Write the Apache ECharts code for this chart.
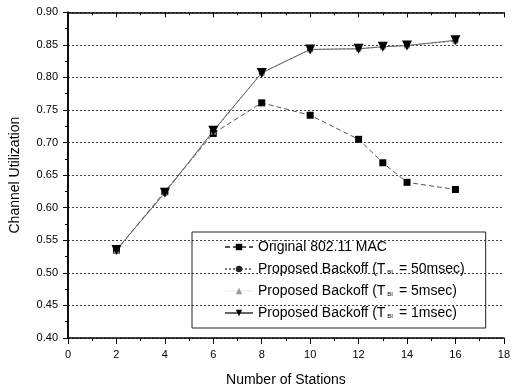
<!DOCTYPE html>
<html><head><meta charset="utf-8">
<script src="https://cdn.jsdelivr.net/npm/echarts@6/dist/echarts.min.js"></script>
<style>html,body{margin:0;padding:0;background:#fff}#c{width:513px;height:392px}</style>
</head><body><div id="c"></div>
<script>
var stations = [2, 4, 6, 8, 10, 12, 13, 14, 16];
var original = [0.535, 0.625, 0.714, 0.761, 0.742, 0.705, 0.669, 0.639, 0.628];
var backoff50 = [0.535, 0.623, 0.717, 0.807, 0.843, 0.844, 0.847, 0.849, 0.856];
var backoff5 = [0.535, 0.623, 0.717, 0.807, 0.843, 0.844, 0.847, 0.849, 0.856];
var backoff1 = [0.535, 0.623, 0.718, 0.807, 0.843, 0.844, 0.847, 0.849, 0.857];
var seriesNames = ['Original 802.11 MAC', 'Proposed Backoff (T_BI = 50msec)', 'Proposed Backoff (T_BI = 5msec)', 'Proposed Backoff (T_BI = 1msec)'];
var xTicks = {min: 0, max: 18, step: 2};
var yTicks = {min: 0.40, max: 0.90, step: 0.05};

function pairs(xs, ys) { return xs.map(function (x, i) { return [x, ys[i]]; }); }
var FONT = 'Liberation Sans, Arial, sans-serif';
var chart = echarts.init(document.getElementById('c'));
chart.setOption({
  animation: false,
  textStyle: {fontFamily: FONT},
  grid: {left: 66.7, right: 8, top: 12.3, bottom: 53.7},
  legend: {
    orient: 'vertical', left: 192, top: 232,
    padding: [8, 21, 8, 32],
    borderColor: '#222', borderWidth: 1,
    itemWidth: 28, itemHeight: 8, itemGap: 8,
    data: seriesNames,
    formatter: function (n) { return n.replace('T_BI', 'T{sub|BI}'); },
    textStyle: {fontSize: 14, lineHeight: 14, color: '#000', fontFamily: FONT,
      rich: {sub: {fontSize: 6, lineHeight: 14, padding: [6, 2, 0, 2], color: '#000'}}}
  },
  xAxis: [{
    type: 'value', min: xTicks.min, max: xTicks.max, interval: xTicks.step,
    name: 'Number of Stations', nameLocation: 'middle', nameGap: 35,
    nameTextStyle: {fontSize: 14, color: '#000'},
    axisLine: {lineStyle: {color: '#000', width: 1.5}},
    axisTick: {length: 6, lineStyle: {color: '#000'}},
    minorTick: {show: true, splitNumber: 2, length: 3, lineStyle: {color: '#000'}},
    axisLabel: {fontSize: 11, color: '#000', margin: 11},
    splitLine: {show: false}
  }, {
    type: 'value', position: 'top', min: xTicks.min, max: xTicks.max, interval: xTicks.step,
    axisLine: {show: true, lineStyle: {color: '#000', width: 1.5}},
    axisTick: {show: true, inside: true, length: 5, lineStyle: {color: '#000'}},
    minorTick: {show: true, splitNumber: 2, length: 3, lineStyle: {color: '#000'}},
    axisLabel: {show: false}, splitLine: {show: false}
  }],
  yAxis: [{
    type: 'value', min: yTicks.min, max: yTicks.max, interval: yTicks.step,
    name: 'Channel Utilization', nameLocation: 'middle', nameGap: 46,
    nameTextStyle: {fontSize: 14, color: '#000'},
    axisLine: {lineStyle: {color: '#000', width: 1.5}},
    axisTick: {length: 5, lineStyle: {color: '#000'}},
    minorTick: {show: true, splitNumber: 2, length: 3, lineStyle: {color: '#000'}},
    axisLabel: {fontSize: 11, color: '#000', margin: 10, formatter: function (v) { return v.toFixed(2); }},
    splitLine: {show: true, lineStyle: {color: '#444', type: [2, 2], width: 1}}
  }, {
    type: 'value', position: 'right', min: yTicks.min, max: yTicks.max, interval: yTicks.step,
    axisLine: {show: true, lineStyle: {color: '#000', width: 1.5}},
    axisTick: {show: true, inside: true, length: 5, lineStyle: {color: '#000'}},
    minorTick: {show: true, splitNumber: 2, length: 3, lineStyle: {color: '#000'}},
    axisLabel: {show: false}, splitLine: {show: false}
  }],
  series: [{
    name: seriesNames[0], type: 'line', data: pairs(stations, original),
    symbol: 'rect', symbolSize: 7, color: '#000',
    lineStyle: {color: '#555', width: 1, type: [5, 3]},
    itemStyle: {color: '#000'}
  }, {
    name: seriesNames[1], type: 'line', data: pairs(stations, backoff50),
    symbol: 'circle', symbolSize: 6, color: '#222',
    lineStyle: {color: '#777', width: 1, type: [2, 2]},
    itemStyle: {color: '#222'}
  }, {
    name: seriesNames[2], type: 'line', data: pairs(stations, backoff5),
    symbol: 'triangle', symbolSize: 6, color: '#999',
    lineStyle: {color: '#ddd', width: 0.5, opacity: 0.3},
    itemStyle: {color: '#999'}
  }, {
    name: seriesNames[3], type: 'line', data: pairs(stations, backoff1),
    symbol: 'triangle', symbolRotate: 180, symbolSize: 10, color: '#000',
    lineStyle: {color: '#666', width: 1},
    itemStyle: {color: '#000'}
  }]
});
</script></body></html>
